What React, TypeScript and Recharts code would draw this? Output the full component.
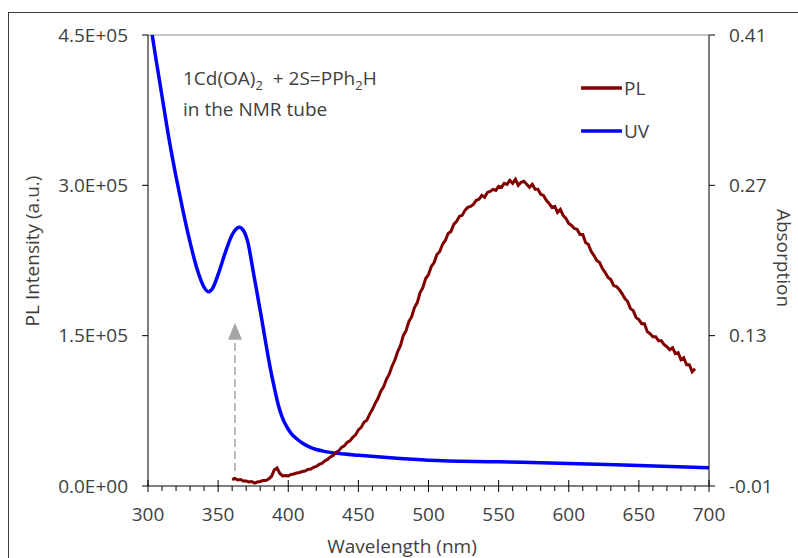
import { LineChart, Line, XAxis, YAxis, ReferenceLine, Legend } from 'recharts'

const FONT = '"Open Sans", sans-serif'
const TEXT = '#404040'

// UV absorption spectrum (nm, absorbance)
const uvWavelength = [300, 303, 306, 310, 315, 320, 325, 330, 335, 340, 343, 346, 350, 355, 360, 365, 368, 371, 375, 378, 381, 384, 387, 390, 393, 396, 399, 402, 406, 410, 415, 420, 425, 430, 440, 450, 475, 500, 550, 600, 650, 700]
const uvAbsorption = [0.435, 0.41, 0.385, 0.353, 0.313, 0.278, 0.246, 0.217, 0.192, 0.175, 0.171, 0.174, 0.187, 0.207, 0.224, 0.231, 0.228, 0.218, 0.19, 0.168, 0.146, 0.123, 0.101, 0.082, 0.065, 0.053, 0.045, 0.039, 0.034, 0.03, 0.0265, 0.024, 0.0225, 0.0213, 0.0197, 0.0186, 0.016, 0.014, 0.0125, 0.011, 0.009, 0.007]

// PL spectrum, sampled every 2 nm from 360 nm (intensity in thousands)
const plStart = 360
const plStep = 2
const plIntensityK = [
  6.5, 7.5, 6, 6.5, 5, 5, 4, 4.5, 3, 4, 4.5, 5.5, 5.5, 7, 9.5, 16, 18, 12.5, 10, 10.5,
  10, 11.5, 12, 13, 13.5, 14.5, 15, 16.5, 17, 18.5, 19.5, 21.5, 22.5, 25, 26.5, 29, 30.5, 33.5, 35, 38.5,
  40, 43.5, 45, 48.5, 51, 56, 58.5, 63.5, 65.5, 71.5, 76.5, 82.5, 87.5, 94.5, 99, 106.5, 111.5, 119.5, 125.5, 134,
  140, 150, 155, 164, 169, 178, 183, 193, 198, 207, 211, 219, 223, 231, 234, 241, 245, 252, 254, 261,
  264, 269, 270, 275, 278, 279, 281, 285, 286, 290, 288, 293, 294, 296, 295, 299, 298, 302, 301, 305,
  302, 306, 300, 303, 304, 301, 298, 301, 296, 296, 291, 290, 285, 282, 278, 279, 273, 276, 270, 267,
  262, 260, 257, 256, 251, 251, 243, 241, 234, 230, 225, 223, 217, 213, 208, 206, 200, 199, 196, 192,
  187, 184, 177, 175, 168, 166, 162, 162, 154, 152, 149, 149, 145, 145, 141, 139, 136, 138, 132, 133,
  126, 128, 121, 121, 114, 117,
]

const leftTicks = [0, 150000, 300000, 450000]
const rightTicks = [-0.01, 0.13, 0.27, 0.41]
const xMajor = [300, 350, 400, 450, 500, 550, 600, 650, 700]
const xTicks = Array.from({ length: 41 }, (_, i) => 300 + i * 10)

const uvData = uvWavelength.map((nm, i) => ({ nm, abs: uvAbsorption[i] }))
const plData = plIntensityK.map((v, i) => ({ nm: plStart + i * plStep, pl: v * 1000 }))

const legendItems = [
  { name: 'PL', color: '#800000' },
  { name: 'UV', color: '#0000ff' },
]

const sci = (v: number) => {
  const [m, e] = v.toExponential(1).split('e')
  const exp = Math.abs(parseInt(e, 10)).toString().padStart(2, '0')
  return `${m}E${parseInt(e, 10) < 0 ? '-' : '+'}${exp}`
}

const XTick = (props: any) => {
  const { x, y, payload } = props
  const major = xMajor.includes(payload.value)
  return (
    <g>
      {major
        ? <line x1={x} x2={x} y1={y - 6} y2={y + 6} stroke="#000" />
        : <line x1={x} x2={x} y1={y} y2={y + 5} stroke="#000" />}
      {major && (
        <text x={x} y={y + 35} textAnchor="middle" fill={TEXT} fontSize={19} fontFamily={FONT}>
          {payload.value}
        </text>
      )}
    </g>
  )
}

const Arrow = (props: any) => {
  const { x1, y1, x2, y2 } = props
  const head = 17
  return (
    <g>
      <line x1={x1} y1={y1} x2={x2} y2={y2 + head} stroke="#a6a6a6" strokeWidth={1.5} strokeDasharray="8 4" />
      <polygon points={`${x2},${y2} ${x2 - 7},${y2 + head} ${x2 + 7},${y2 + head}`} fill="#a6a6a6" />
    </g>
  )
}

const LegendContent = () => (
  <div style={{ fontFamily: FONT, fontSize: 19, color: TEXT }}>
    {legendItems.map(item => (
      <div key={item.name} style={{ display: 'flex', alignItems: 'center', height: 24, marginBottom: 19 }}>
        <svg width={41} height={6}>
          <line x1={1} x2={40} y1={3} y2={3} stroke={item.color} strokeWidth={3.5} strokeLinecap="round" />
        </svg>
        <span style={{ marginLeft: 2, lineHeight: '24px' }}>{item.name}</span>
      </div>
    ))}
  </div>
)

export default function App() {
  return (
    <div style={{ position: 'absolute', left: 0, top: 0, width: 798, height: 558, background: '#fff', overflow: 'hidden', fontFamily: FONT }}>
      <div style={{ position: 'absolute', left: 8, top: 12, width: 820, height: 600, border: '1px solid #3c3c3c' }} />
      <LineChart width={798} height={558} margin={{ top: 35, right: 0, bottom: 0, left: 0 }}>
        <XAxis
          type="number"
          dataKey="nm"
          domain={[300, 700]}
          ticks={xTicks}
          interval={0}
          tick={<XTick />}
          tickLine={false}
          tickSize={0}
          tickMargin={0}
          height={72}
          axisLine={{ stroke: '#000' }}
        />
        <YAxis
          yAxisId="left"
          orientation="left"
          width={148}
          domain={[0, 450000]}
          ticks={leftTicks}
          interval={0}
          tickFormatter={sci}
          tickSize={6}
          tickMargin={14}
          tick={{ fill: TEXT, fontSize: 19, fontFamily: FONT }}
          tickLine={{ stroke: '#000' }}
          axisLine={{ stroke: '#000' }}
        />
        <YAxis
          yAxisId="right"
          orientation="right"
          width={89}
          domain={[-0.01, 0.41]}
          allowDataOverflow
          ticks={rightTicks}
          interval={0}
          tickFormatter={(v: number) => v.toFixed(2)}
          tickSize={6}
          tickMargin={14}
          tick={{ fill: TEXT, fontSize: 19, fontFamily: FONT }}
          tickLine={{ stroke: '#000' }}
          axisLine={{ stroke: '#000' }}
        />
        <ReferenceLine yAxisId="left" y={450000} stroke="#8c8c8c" />
        <ReferenceLine
          yAxisId="left"
          segment={[{ x: 362, y: 15000 }, { x: 362, y: 163000 }]}
          shape={<Arrow />}
        />
        <Line
          yAxisId="right"
          data={uvData}
          dataKey="abs"
          type="monotone"
          stroke="#0000ff"
          strokeWidth={3.5}
          dot={false}
          isAnimationActive={false}
        />
        <Line
          yAxisId="left"
          data={plData}
          dataKey="pl"
          type="linear"
          stroke="#800000"
          strokeWidth={3}
          dot={false}
          isAnimationActive={false}
        />
        <Legend
          layout="vertical"
          align="center"
          verticalAlign="middle"
          content={<LegendContent />}
          wrapperStyle={{ left: 581, top: 76, width: 80 }}
        />
      </LineChart>
      <div style={{ position: 'absolute', left: 183, top: 66, fontSize: 19, lineHeight: '24px', color: TEXT, whiteSpace: 'nowrap' }}>
        <div>1Cd(OA)<sub style={{ fontSize: 13 }}>2</sub>&nbsp; + 2S=PPh<sub style={{ fontSize: 13 }}>2</sub>H</div>
        <div>in the NMR tube</div>
      </div>
      <div style={{ position: 'absolute', left: 402, top: 546, transform: 'translate(-50%, -50%)', fontSize: 19, color: TEXT, whiteSpace: 'nowrap' }}>
        Wavelength (nm)
      </div>
      <div style={{ position: 'absolute', left: 32, top: 251, transform: 'translate(-50%, -50%) rotate(-90deg)', fontSize: 19, color: TEXT, whiteSpace: 'nowrap' }}>
        PL Intensity (a.u.)
      </div>
      <div style={{ position: 'absolute', left: 784, top: 258, transform: 'translate(-50%, -50%) rotate(90deg)', fontSize: 19, color: TEXT, whiteSpace: 'nowrap' }}>
        Absorption
      </div>
    </div>
  )
}
